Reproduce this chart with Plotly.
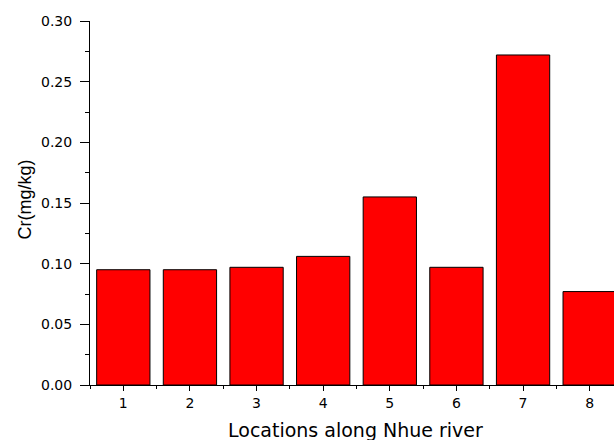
import plotly.graph_objects as go

locations = [1, 2, 3, 4, 5, 6, 7, 8]
cr_values = [0.095, 0.095, 0.097, 0.106, 0.155, 0.097, 0.272, 0.077]
y_ticks = [0.00, 0.05, 0.10, 0.15, 0.20, 0.25, 0.30]
y_tick_text = ["0.00", "0.05", "0.10", "0.15", "0.20", "0.25", "0.30"]
x_title = "Locations along Nhue river"
y_title = "Cr(mg/kg)"

fig = go.Figure()
fig.add_trace(go.Bar(
    x=locations, y=cr_values, width=0.8,
    marker=dict(color="#FF0000", line=dict(color="black", width=1)),
))

fig.update_layout(
    width=614, height=440,
    margin=dict(l=90, r=0, t=21, b=55),
    paper_bgcolor="white", plot_bgcolor="white",
    showlegend=False,
    font=dict(family="DejaVu Sans", size=14, color="black"),
    xaxis=dict(
        range=[0.5, 8.365], tickmode="array", tickvals=locations,
        ticktext=[str(v) for v in locations],
        showline=True, linecolor="black", linewidth=1,
        ticks="outside", ticklen=5, tickwidth=1, tickcolor="black",
        minor=dict(tickmode="linear", tick0=0.5, dtick=1, ticks="outside",
                   ticklen=3, tickwidth=1, tickcolor="black"),
        showgrid=False, zeroline=False,
        tickfont=dict(family="DejaVu Sans", size=14),
    ),
    yaxis=dict(
        range=[0, 0.30], tickmode="array", tickvals=y_ticks, ticktext=y_tick_text,
        showline=True, linecolor="black", linewidth=1,
        ticks="outside", ticklen=9, tickwidth=1, tickcolor="black",
        minor=dict(tickmode="linear", tick0=0.025, dtick=0.05, ticks="outside",
                   ticklen=4, tickwidth=1, tickcolor="black"),
        showgrid=False, zeroline=False,
        ticklabelstandoff=5,
        tickfont=dict(family="DejaVu Sans", size=14),
    ),
    annotations=[
        dict(text=x_title, xref="paper", yref="paper", x=0.5076, y=-0.1236,
             xanchor="center", yanchor="middle", showarrow=False,
             font=dict(family="DejaVu Sans", size=19, color="black")),
        dict(text=y_title, xref="paper", yref="paper", x=-0.1231, y=0.511,
             xanchor="center", yanchor="middle", showarrow=False, textangle=-90,
             font=dict(family="Liberation Sans", size=18, color="black")),
    ],
)

fig.write_html("out.html", config={"displayModeBar": False},
               post_script="document.body.style.margin='0';document.body.style.overflow='hidden';")
